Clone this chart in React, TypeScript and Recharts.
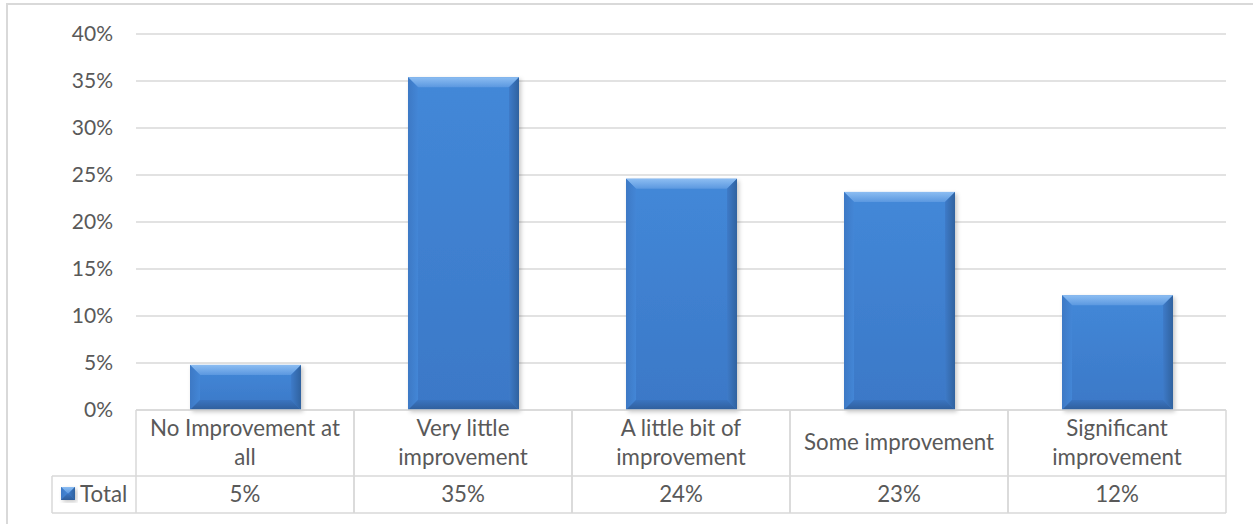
import React from 'react';
import { BarChart, Bar, XAxis, YAxis, CartesianGrid } from 'recharts';

// ---- data ----
const categories = [
  'No Improvement at all',
  'Very little improvement',
  'A little bit of improvement',
  'Some improvement',
  'Significant improvement',
];
const categoryLines = [
  ['No Improvement at', 'all'],
  ['Very little', 'improvement'],
  ['A little bit of', 'improvement'],
  ['Some improvement'],
  ['Significant', 'improvement'],
];
const totalValues = [0.048, 0.354, 0.246, 0.232, 0.122];
const tableValueLabels = ['5%', '35%', '24%', '23%', '12%'];
const seriesName = 'Total';
const yTicks = [0, 0.05, 0.1, 0.15, 0.2, 0.25, 0.3, 0.35, 0.4];

const data = categories.map((c, i) => ({ category: c, total: totalValues[i] }));

// ---- layout ----
const W = 1253;
const H = 524;
const M = { top: 34, right: 27, bottom: 10, left: 36 };
const Y_AXIS_W = 100;
const X_AXIS_H = 104;
const PLOT_LEFT = M.left + Y_AXIS_W;
const BAND = (W - PLOT_LEFT - M.right) / categories.length;
const ROW1_H = 66;
const ROW2_H = 37;
const LEGEND_CELL_LEFT = 52;
const FONT = 'Lato, "Open Sans", sans-serif';
const TEXT = '#595959';
const LINE = '#d9d9d9';
const FS = 21;
const TFS = 22.3;

const BevelBar = (props: any) => {
  const { x, y, width, height } = props;
  if (!height || height <= 0) return null;
  const b = Math.min(10, height / 2, width / 2);
  const r = x + width;
  const bt = y + height;
  return (
    <g>
      <rect x={x} y={y} width={width} height={height} fill="url(#barBody)" filter="url(#barShadow)" />
      <polygon
        points={`${x},${y} ${r},${y} ${r - b},${y + b} ${x + b},${y + b}`}
        fill="url(#bevelTop)"
      />
      <polygon
        points={`${x},${y} ${x + b},${y + b} ${x + b},${bt - b} ${x},${bt}`}
        fill="url(#bevelLeft)"
      />
      <polygon
        points={`${r},${y} ${r},${bt} ${r - b},${bt - b} ${r - b},${y + b}`}
        fill="url(#bevelRight)"
      />
      <polygon
        points={`${x},${bt} ${x + b},${bt - b} ${r - b},${bt - b} ${r},${bt}`}
        fill="url(#bevelBottom)"
      />
    </g>
  );
};

const TableTick = (props: any) => {
  const { x, y, index } = props;
  const left = x - BAND / 2;
  const right = x + BAND / 2;
  const lines = categoryLines[index] || [];
  const n = lines.length;
  const row1Mid = y + 40;
  return (
    <g>
      <line x1={left} y1={y} x2={right} y2={y} stroke={LINE} strokeWidth={1.5} />
      <line x1={left} y1={y + ROW1_H} x2={right} y2={y + ROW1_H} stroke={LINE} strokeWidth={1.5} />
      <line x1={left} y1={y + ROW1_H + ROW2_H} x2={right} y2={y + ROW1_H + ROW2_H} stroke={LINE} strokeWidth={1.5} />
      <line x1={left} y1={y} x2={left} y2={y + ROW1_H + ROW2_H} stroke={LINE} strokeWidth={1.5} />
      <line x1={right} y1={y} x2={right} y2={y + ROW1_H + ROW2_H} stroke={LINE} strokeWidth={1.5} />
      {lines.map((t, i) => (
        <text
          key={i}
          x={x}
          y={row1Mid + (i - (n - 1) / 2) * 29}
          textAnchor="middle"
          fill={TEXT}
          fontSize={TFS}
          fontFamily={FONT}
        >
          {t}
        </text>
      ))}
      <text x={x} y={y + 92} textAnchor="middle" fill={TEXT} fontSize={TFS} fontFamily={FONT}>
        {tableValueLabels[index]}
      </text>
      {index === 0 && (
        <g>
          <line x1={LEGEND_CELL_LEFT} y1={y + ROW1_H} x2={left} y2={y + ROW1_H} stroke={LINE} strokeWidth={1.5} />
          <line x1={LEGEND_CELL_LEFT} y1={y + ROW1_H + ROW2_H} x2={left} y2={y + ROW1_H + ROW2_H} stroke={LINE} strokeWidth={1.5} />
          <line x1={LEGEND_CELL_LEFT} y1={y + ROW1_H} x2={LEGEND_CELL_LEFT} y2={y + ROW1_H + ROW2_H} stroke={LINE} strokeWidth={1.5} />
          <BevelBar x={61} y={y + 77} width={14} height={13} />
          <text x={80} y={y + 92} fill={TEXT} fontSize={TFS} fontFamily={FONT}>
            {seriesName}
          </text>
        </g>
      )}
    </g>
  );
};

export default function App() {
  return (
    <div style={{ position: 'absolute', left: 0, top: 0, width: W, height: H, background: '#fff' }}>
      <BarChart width={W} height={H} data={data} margin={M} barSize={111}>
        <defs>
          <linearGradient id="barBody" x1="0" y1="0" x2="0" y2="1">
            <stop offset="0" stopColor="#4388d8" />
            <stop offset="1" stopColor="#3b78c7" />
          </linearGradient>
          <linearGradient id="bevelTop" x1="0" y1="0" x2="0" y2="1">
            <stop offset="0" stopColor="#8cbdf2" />
            <stop offset="1" stopColor="#5b98e0" />
          </linearGradient>
          <linearGradient id="bevelLeft" x1="0" y1="0" x2="1" y2="0">
            <stop offset="0" stopColor="#3d79c5" />
            <stop offset="1" stopColor="#4386d6" />
          </linearGradient>
          <linearGradient id="bevelRight" x1="1" y1="0" x2="0" y2="0">
            <stop offset="0" stopColor="#30629f" />
            <stop offset="1" stopColor="#3e7bc9" />
          </linearGradient>
          <linearGradient id="bevelBottom" x1="0" y1="1" x2="0" y2="0">
            <stop offset="0" stopColor="#2f5e9b" />
            <stop offset="1" stopColor="#3a74c0" />
          </linearGradient>
          <filter id="barShadow" x="-10%" y="-10%" width="130%" height="130%">
            <feDropShadow dx="2" dy="2" stdDeviation="2" floodColor="#000" floodOpacity="0.22" />
          </filter>
        </defs>
        <rect x={7} y={4} width={W + 20} height={H + 20} fill="none" stroke={LINE} strokeWidth={2} />
        <CartesianGrid horizontal vertical={false} stroke={LINE} strokeWidth={1.5} />
        <XAxis
          dataKey="category"
          height={X_AXIS_H}
          axisLine={false}
          tickLine={false}
          tickSize={0}
          tickMargin={0}
          interval={0}
          tick={<TableTick />}
        />
        <YAxis
          width={Y_AXIS_W}
          domain={[0, 0.4]}
          ticks={yTicks}
          axisLine={false}
          tickLine={false}
          tickSize={0}
          tickMargin={23}
          tickFormatter={(v: number) => `${Math.round(v * 100)}%`}
          tick={{ fill: TEXT, fontSize: FS, fontFamily: FONT }}
        />
        <Bar dataKey="total" name={seriesName} shape={<BevelBar />} isAnimationActive={false} />
      </BarChart>
    </div>
  );
}
